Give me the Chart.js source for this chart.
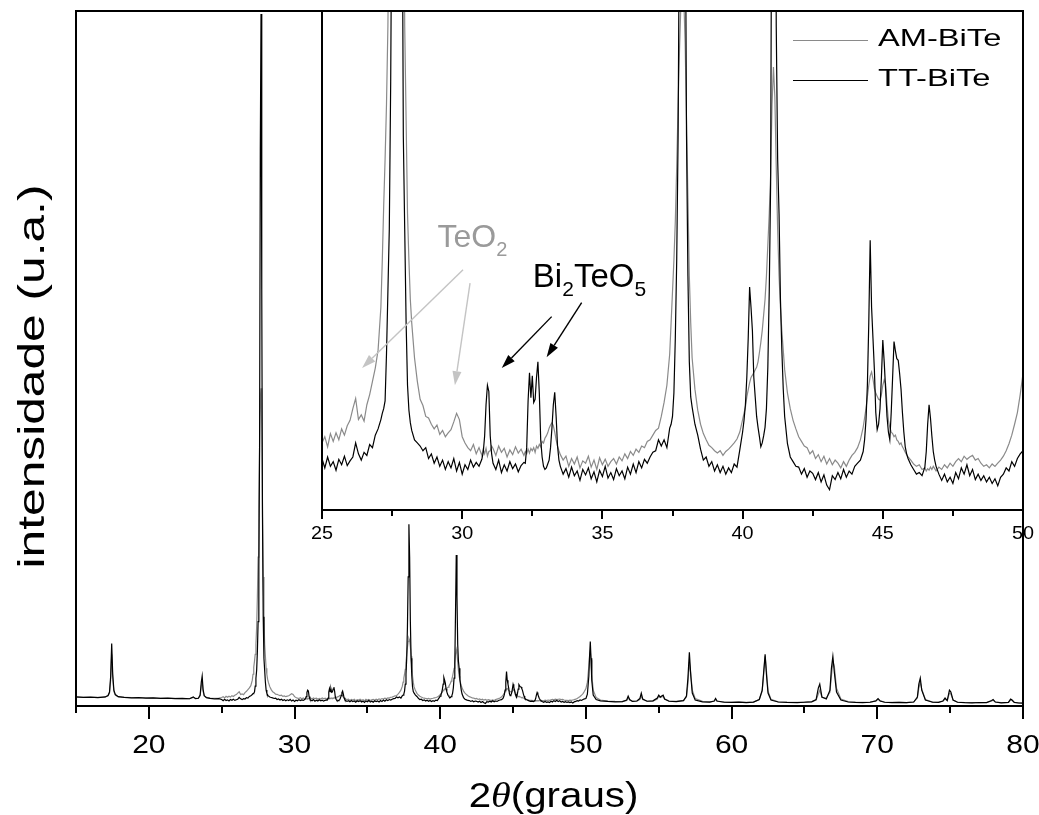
<!DOCTYPE html>
<html>
<head>
<meta charset="utf-8">
<title>DRX BiTe</title>
<script src="https://cdn.jsdelivr.net/npm/chart.js@4.4.1/dist/chart.umd.min.js"></script>
<style>
  html, body { margin: 0; padding: 0; background: #fff; }
  #wrap { position: relative; width: 1039px; height: 815px; }
  #mainChart { position: absolute; left: 0; top: 0; }
  #insetChart { position: absolute; left: 300px; top: 0; }
</style>
</head>
<body>
<div id="wrap">
  <canvas id="mainChart" width="1039" height="815"></canvas>
  <canvas id="insetChart" width="739" height="560"></canvas>
</div>
<script>
// 2theta grid (degrees), finer around the reflections
const twoTheta = [
  15.0, 15.5, 16.0, 16.5, 17.0, 17.2, 17.3, 17.38, 17.45, 17.52, 17.6, 17.7, 17.9, 18.3, 18.8, 19.3, 19.8, 20.3, 20.8, 21.3, 21.8, 22.3, 22.8, 23.05, 23.2, 23.4, 23.52, 23.6, 23.66, 23.72, 23.8, 23.95, 24.2, 24.5, 24.8,
  25.0, 25.1, 25.2, 25.3, 25.4, 25.5, 25.6, 25.7, 25.8, 25.9, 26.0, 26.1, 26.2, 26.3, 26.4, 26.5, 26.6, 26.7, 26.8, 26.9, 27.0, 27.1,
  27.15, 27.2, 27.25, 27.3, 27.35, 27.4, 27.45, 27.5, 27.55, 27.6, 27.65, 27.7, 27.75, 27.8, 27.85, 27.9, 27.95, 28.0, 28.05, 28.1, 28.15, 28.2,
  28.3, 28.4, 28.5, 28.6, 28.7, 28.8, 28.9, 29.0, 29.1, 29.2, 29.3, 29.4, 29.5, 29.6, 29.7, 29.8, 29.9, 30.0, 30.1, 30.2, 30.3, 30.4, 30.5, 30.6, 30.7,
  30.75, 30.8, 30.85, 30.9, 30.95, 31.0, 31.05, 31.1,
  31.2, 31.3, 31.4, 31.5, 31.6, 31.7, 31.8, 31.9, 32.0, 32.1, 32.2,
  32.25, 32.3, 32.35, 32.4, 32.45, 32.5, 32.55, 32.6, 32.65, 32.7, 32.75, 32.8, 32.85, 32.9, 32.95, 33.0, 33.05, 33.1, 33.15, 33.2, 33.25, 33.3, 33.35, 33.4, 33.45, 33.5,
  33.6, 33.7, 33.8, 33.9, 34.0, 34.1, 34.2, 34.3, 34.4, 34.5, 34.6, 34.7, 34.8, 34.9, 35.0, 35.1, 35.2, 35.3, 35.4, 35.5, 35.6, 35.7, 35.8, 35.9, 36.0, 36.1, 36.2, 36.3, 36.4, 36.5, 36.6, 36.7, 36.8, 36.9, 37.0, 37.1, 37.2, 37.3, 37.4,
  37.45, 37.5, 37.55, 37.6, 37.65, 37.7, 37.75, 37.8, 37.85, 37.9, 37.95, 38.0, 38.05, 38.1, 38.15, 38.2,
  38.3, 38.4, 38.5, 38.6, 38.7, 38.8, 38.9, 39.0, 39.1, 39.2, 39.3, 39.4, 39.5, 39.6, 39.7, 39.8, 39.9, 40.0,
  40.05, 40.1, 40.15, 40.2, 40.25, 40.3, 40.35, 40.4, 40.45, 40.5, 40.55, 40.6, 40.65, 40.7, 40.75, 40.8, 40.85, 40.9, 40.95, 41.0, 41.05, 41.1, 41.15, 41.2, 41.25, 41.3, 41.35, 41.4, 41.45, 41.5,
  41.6, 41.7, 41.8, 41.9, 42.0, 42.1, 42.2, 42.3, 42.4, 42.5, 42.6, 42.7, 42.8, 42.9, 43.0, 43.1, 43.2, 43.3, 43.4, 43.5, 43.6, 43.7, 43.8, 43.9, 44.0, 44.1, 44.2, 44.3,
  44.35, 44.4, 44.45, 44.5, 44.55, 44.6, 44.65, 44.7, 44.75, 44.8, 44.85, 44.9, 44.95, 45.0, 45.05, 45.1, 45.15, 45.2, 45.25, 45.3, 45.35, 45.4, 45.45, 45.5, 45.55, 45.6, 45.65, 45.7, 45.75, 45.8, 45.85, 45.9,
  46.0, 46.1, 46.2, 46.3, 46.4, 46.5,
  46.55, 46.6, 46.65, 46.7, 46.75, 46.8, 46.85,
  46.9, 47.0, 47.1, 47.2, 47.3, 47.4, 47.5, 47.6, 47.7, 47.8, 47.9, 48.0, 48.1, 48.2, 48.3, 48.4, 48.5, 48.6, 48.7, 48.8, 48.9, 49.0, 49.1, 49.2, 49.3, 49.4, 49.5, 49.6, 49.7, 49.8, 49.9, 50.0,
  50.1, 50.2, 50.25, 50.3, 50.35, 50.4, 50.5, 50.7, 51.0, 51.5,
  52.0, 52.5, 52.8, 52.9, 53.0, 53.2, 53.5, 53.7, 53.8, 53.9,
  54.2, 54.6, 54.9, 55.0, 55.1, 55.2, 55.3, 55.4, 55.7, 56.2,
  56.7, 56.9, 57.0, 57.1, 57.2, 57.3, 57.5, 58.0, 58.5, 58.8,
  58.9, 59.0, 59.5, 60.0, 60.5, 61.0, 61.5, 61.9, 62.1, 62.2,
  62.3, 62.4, 62.5, 62.7, 63.2, 63.8, 64.5, 65.0, 65.5, 65.8,
  65.95, 66.05, 66.2, 66.5, 66.75, 66.85, 66.95, 67.05, 67.2, 67.5,
  68.0, 68.5, 69.0, 69.5, 69.9, 70.05, 70.2, 70.5, 71.0, 71.5,
  72.0, 72.5, 72.75, 72.85, 72.95, 73.05, 73.3, 73.8, 74.2, 74.5,
  74.65, 74.8, 74.95, 75.05, 75.2, 75.5, 76.0, 76.5, 77.0, 77.5,
  77.85, 77.95, 78.1, 78.5, 79.0, 79.15, 79.25, 79.4, 79.7, 80.0
];

// as-milled sample (u.a.)
const amBiTe = [
  9.0, 8.8, 8.7, 8.6, 8.9, 10.2, 13, 26, 52, 28, 14.5, 11, 9.2, 8.8, 8.4, 8.3, 8.1, 7.9, 7.8, 7.7, 7.6, 7.5, 7.4, 8.6, 7.8, 8.0, 10.2, 20, 25, 15, 10, 8.6, 8.0, 7.8, 7.9,
  8.6, 9.4, 8.1, 9.8, 8.8, 9.9, 9.0, 10.4, 9.6, 10.8, 11.5, 13.0, 14.3, 11.6, 12.2, 11.4, 13.5, 14.8, 16.5, 18.2, 20.5, 26,
  32, 39, 45, 52, 62, 80, 110, 150, 200, 260, 310, 320, 280, 200, 130, 90, 62, 50, 38, 32, 27, 24,
  19.5, 16.5, 14.2, 13.4, 12.0, 11.8, 11.0, 10.4, 10.9, 9.7, 10.2, 9.4, 9.9, 10.3, 11.3, 12.4, 11.6, 9.4, 8.6, 8.0, 7.6, 8.4, 7.2, 8.0, 7.0,
  7.8, 7.2, 7.9, 6.9, 7.5, 7.6, 8.2, 7.9,
  7.0, 8.2, 7.4, 7.9, 6.8, 7.7, 7.1, 8.1, 7.3, 7.8, 7.0,
  7.5, 7.2, 7.8, 7.3, 7.9, 7.6, 8.0, 7.4, 8.2, 7.9, 8.4, 8.1, 8.8, 8.6, 9.2, 9.5, 9.9, 10.5, 10.9, 11.2, 10.8, 10.0, 9.0, 8.2, 7.6, 7.1,
  6.4, 6.9, 5.6, 6.6, 5.9, 6.8, 5.4, 6.3, 6.0, 6.9, 5.5, 6.4, 5.2, 6.7, 5.8, 6.5, 5.6, 6.2, 6.6, 5.9, 6.8, 6.3, 7.2, 6.6, 7.5, 7.0, 7.8, 7.4, 8.2, 8.0, 8.8, 9.0, 9.6, 10.2, 10.5, 12.0, 13.8, 16.0, 20.0,
  24, 28, 32, 37, 44, 52, 59, 65, 68, 66, 60, 50, 40, 30, 24, 19.5,
  15.5, 12.8, 11.0, 9.8, 9.0, 8.3, 8.0, 7.6, 7.3, 7.6, 7.0, 7.5, 7.8, 8.2, 8.6, 9.1, 10.0, 11.6,
  12.4, 13.2, 14.5, 15.4, 16.3, 17.0, 17.3, 17.6, 18.0, 18.3, 19.0, 20.2, 21.5, 23.0, 25.0, 27.0, 30.0, 34.0, 38.0, 43.0, 52.0, 56.8, 53.0, 44.0, 36.0, 30.0, 26.0, 23.0, 20.5, 18.0,
  15, 13, 11.5, 10.4, 9.4, 8.8, 8.2, 8.0, 7.2, 7.6, 6.6, 7.1, 6.2, 6.9, 5.9, 6.6, 5.8, 6.4, 6.0, 5.4, 6.2, 5.6, 6.4, 7.0, 7.4, 8.0, 9.0, 10.6,
  11.8, 13.0, 14.5, 16.0, 17.2, 17.7, 16.8, 15.6, 15.0, 14.6, 14.2, 14.1, 14.8, 16.0, 16.7, 16.2, 13.5, 11.5, 10.6, 10.0, 9.8, 9.4, 9.6, 9.0, 8.8, 8.4, 8.6, 8.1, 7.8, 7.4, 7.1, 6.8,
  6.4, 5.9, 5.6, 5.8, 5.2, 5.4,
  5.0, 5.3, 5.1, 5.5, 5.2, 5.6, 5.3,
  5.0, 5.5, 5.2, 5.8, 5.4, 6.0, 5.6, 6.2, 6.6, 6.2, 6.9, 6.5, 6.8, 7.0, 6.4, 6.6, 6.0, 5.6, 5.8, 5.4, 5.9, 5.6, 6.0, 6.4, 6.9, 7.6, 8.5, 9.6, 11.0, 12.5, 14.8, 17.5,
  24, 40, 50, 55, 46, 32, 16, 8.5, 6.0, 5.0,
  4.6, 4.4, 5.5, 8.5, 6.0, 4.6, 5.0, 6.5, 10, 6.5,
  4.8, 5.0, 7.0, 10, 8.5, 9.2, 9.6, 7.0, 5.2, 4.8,
  5.6, 9, 22, 44, 32, 16, 7.5, 4.6, 4.2, 4.8,
  6.5, 4.8, 4.0, 3.8, 3.9, 3.8, 4.0, 6.5, 15, 32,
  50, 34, 15, 6.8, 4.2, 3.8, 3.6, 3.9, 4.4, 6.0,
  12, 16, 8.5, 8, 14, 30, 45, 40, 18, 7.0,
  4.4, 3.8, 3.6, 3.9, 5.0, 6.8, 5.2, 4.0, 3.6, 3.6,
  3.5, 4.0, 8, 18, 24, 17, 6.5, 4.0, 3.8, 4.8,
  7.0, 5.4, 13, 12, 6.0, 4.0, 3.5, 3.4, 3.4, 3.5,
  5.0, 5.8, 4.0, 3.4, 3.6, 6.0, 5.5, 3.8, 3.2, 3.0
];

// heat-treated sample (u.a.)
const ttBiTe = [
  9.2, 8.6, 9.0, 8.4, 9.1, 10.5, 14, 30, 63, 32, 16, 11.5, 9.4, 8.6, 8.2, 8.5, 7.9, 8.1, 7.6, 7.9, 7.4, 7.7, 7.3, 9.2, 7.4, 7.8, 11, 24, 30, 17, 10.5, 8.4, 7.6, 7.2, 7.5,
  6.6, 5.4, 6.8, 5.6, 6.2, 5.1, 6.5, 5.8, 6.9, 5.7, 6.3, 6.8, 8.6, 7.2, 6.4, 7.4, 7.0, 8.4, 8.0, 9.6, 10.4, 11.6,
  12.4, 13.0, 14.0, 20, 28, 36, 55, 85, 140, 260, 560, 697, 420, 190, 90, 48, 36, 24, 16, 12.8, 11.2, 10.2,
  9.0, 8.6, 8.2, 7.6, 8.0, 6.6, 7.2, 6.0, 6.8, 5.6, 6.4, 5.2, 6.2, 5.4, 6.6, 5.0, 6.1, 4.6, 5.8, 5.2, 6.4, 5.5, 6.1, 5.6, 6.5,
  7.4, 9.5, 13.5, 16.0, 15.2, 9.5, 7.2, 6.0,
  5.2, 6.4, 4.8, 5.8, 5.0, 6.2, 5.3, 5.9, 4.9, 5.7, 6.1,
  6.0, 8.0, 14.0, 17.6, 14.4, 17.2, 13.8, 14.2, 17.0, 19.0, 15.0, 9.0, 6.8, 5.6, 5.2, 5.4, 5.9, 6.4, 8.0, 10.5, 13.5, 15.1, 12.0, 8.2, 6.4, 5.6,
  4.6, 5.3, 4.2, 5.5, 4.4, 5.0, 3.8, 5.2, 4.5, 5.4, 4.0, 4.9, 3.6, 5.1, 4.3, 5.6, 4.1, 4.8, 3.9, 5.3, 4.4, 5.0, 4.0, 5.5, 4.6, 5.9, 4.8, 6.2, 5.4, 6.5, 6.0, 6.8, 7.4, 7.6, 9.0, 8.2, 9.0, 8.0, 10.5,
  11.0, 12.0, 15.0, 22, 32, 48, 80, 130, 183, 150, 85, 48, 30, 19, 14.5, 13.2,
  11.0, 9.6, 7.8, 6.4, 6.8, 5.6, 6.2, 5.0, 5.8, 4.8, 5.6, 4.6, 5.4, 4.8, 5.9, 5.5, 7.7, 10.0,
  11.5, 13.5, 17.0, 22.0, 28.6, 26.0, 23.0, 17.0, 14.5, 12.0, 10.6, 9.4, 8.1, 8.6, 9.5, 10.6, 13.0, 18.3, 28.0, 42.0, 95, 152, 110, 62, 45, 38, 27, 20.5, 15.5, 12.0,
  8.5, 6.8, 6.2, 5.6, 5.5, 4.6, 5.3, 4.2, 5.0, 4.7, 3.9, 4.8, 3.6, 4.5, 3.2, 2.6, 4.4, 3.9, 4.8, 4.0, 5.2, 4.2, 5.0, 4.6, 5.6, 6.0, 6.4, 7.5,
  9.0, 11.5, 16.0, 24.0, 34.6, 26.0, 22.0, 18.0, 12.5, 10.3, 11.0, 13.0, 17.0, 21.8, 19.0, 15.5, 12.0, 10.0, 9.0, 12.5, 17.0, 21.6, 20.4, 19.4, 19.2, 17.5, 15.5, 12.5, 10.0, 8.1, 7.2, 6.6,
  5.8, 5.2, 4.6, 4.8, 4.4, 5.5,
  7.5, 11.0, 13.5, 11.8, 9.5, 7.5, 6.4,
  5.6, 4.6, 3.8, 4.6, 3.6, 4.2, 3.4, 4.8, 4.0, 5.4, 4.6, 5.8, 4.4, 5.2, 3.9, 4.6, 3.8, 4.4, 3.6, 4.2, 3.4, 4.0, 3.1, 4.2, 4.6, 5.4, 5.0, 6.2, 5.6, 6.6, 7.2, 7.6,
  12, 30, 50, 65, 48, 26, 11, 6.5, 5.2, 4.6,
  4.2, 4.5, 6.0, 10, 6.5, 4.6, 5.0, 7.5, 13, 7.0,
  4.8, 5.2, 8.0, 11, 9.0, 10, 11, 7.0, 4.8, 4.4,
  5.4, 10, 28, 54, 30, 13, 6.0, 4.2, 4.0, 5.0,
  7.5, 5.0, 3.8, 3.6, 3.9, 3.5, 3.9, 6.5, 16, 34,
  52, 30, 13, 6.0, 4.0, 3.6, 3.5, 3.8, 4.2, 6.5,
  18, 22, 9, 7, 16, 38, 50, 34, 14, 6.0,
  4.0, 3.6, 3.4, 3.8, 5.2, 7.5, 5.0, 3.8, 3.4, 3.6,
  3.4, 4.0, 9, 22, 28, 16, 6.0, 3.8, 3.6, 5.0,
  8.0, 5.5, 16, 14, 6.0, 3.8, 3.4, 3.2, 3.5, 3.4,
  5.5, 6.5, 4.0, 3.2, 3.6, 7.0, 6.0, 3.6, 3.0, 2.8
];

const seriesLabels = ['AM-BiTe', 'TT-BiTe'];
const seriesColors = ['#8a8a8a', '#000000'];

const mainTicks = [15, 20, 25, 30, 35, 40, 45, 50, 55, 60, 65, 70, 75, 80];
const mainTickLabels = [20, 30, 40, 50, 60, 70, 80];
const insetTicks = [25, 27.5, 30, 32.5, 35, 37.5, 40, 42.5, 45, 47.5, 50];
const insetTickLabels = [25, 30, 35, 40, 45, 50];

// phase markers in the zoomed panel: [from 2theta, from I, to 2theta, to I]
const teo2Arrows = [[30.03, 30.8, 26.43, 18.2], [30.28, 29.1, 29.74, 16.0]];
const bi2teo5Arrows = [[33.19, 24.8, 31.41, 18.2], [34.26, 26.6, 33.01, 19.6]];
const teo2Anchor = [29.12, 33.7];
const bi2teo5Anchor = [32.52, 28.6];

const FONT = "'Liberation Sans', Arial, sans-serif";

function points(values) {
  return twoTheta.map((t, i) => ({ x: t, y: values[i] }));
}

function buildDatasets() {
  return [amBiTe, ttBiTe].map((values, i) => ({
    label: seriesLabels[i],
    data: points(values),
    borderColor: seriesColors[i],
    borderWidth: 1.2,
    pointRadius: 0,
    tension: 0,
    order: 2 - i
  }));
}

// text made of runs [text, font, dy]; sx widens the glyphs along the text
function drawRuns(ctx, runs, x, y, align, sx = 1) {
  let total = 0;
  runs.forEach(r => { ctx.font = r[1]; total += ctx.measureText(r[0]).width; });
  let start = x;
  if (align === 'center') start = x - total * sx / 2;
  else if (align === 'right') start = x - total * sx;
  ctx.save();
  ctx.translate(start, y);
  ctx.scale(sx, 1);
  ctx.textAlign = 'left';
  ctx.textBaseline = 'alphabetic';
  let cx = 0;
  runs.forEach(r => {
    ctx.font = r[1];
    ctx.fillText(r[0], cx, r[2] || 0);
    cx += ctx.measureText(r[0]).width;
  });
  ctx.restore();
}

function drawArrow(ctx, x0, y0, x1, y1, color) {
  const ang = Math.atan2(y1 - y0, x1 - x0);
  const head = 14, half = 4.5;
  const bx = x1 - head * Math.cos(ang), by = y1 - head * Math.sin(ang);
  ctx.strokeStyle = color;
  ctx.fillStyle = color;
  ctx.lineWidth = 1.4;
  ctx.beginPath();
  ctx.moveTo(x0, y0);
  ctx.lineTo(bx, by);
  ctx.stroke();
  ctx.beginPath();
  ctx.moveTo(x1, y1);
  ctx.lineTo(bx + half * Math.sin(ang), by - half * Math.cos(ang));
  ctx.lineTo(bx - half * Math.sin(ang), by + half * Math.cos(ang));
  ctx.closePath();
  ctx.fill();
}

function drawAxisTicks(ctx, chart, ticks, labels, major, minor, labelFont, baselineOffset, sx) {
  const a = chart.chartArea;
  const x = chart.scales.x;
  ctx.strokeStyle = '#000';
  ctx.lineWidth = 2;
  ticks.forEach(v => {
    const px = Math.round(x.getPixelForValue(v));
    const len = labels.includes(v) ? major : minor;
    ctx.beginPath();
    ctx.moveTo(px, a.bottom);
    ctx.lineTo(px, a.bottom + len);
    ctx.stroke();
  });
  ctx.fillStyle = '#000';
  labels.forEach(v => drawRuns(ctx, [[String(v), labelFont]], x.getPixelForValue(v), a.bottom + baselineOffset, 'center', sx));
}

const mainFrame = {
  id: 'mainFrame',
  afterDraw(chart) {
    const { ctx, chartArea: a } = chart;
    ctx.save();
    ctx.strokeStyle = '#000';
    ctx.lineWidth = 2;
    ctx.strokeRect(a.left, a.top, a.right - a.left, a.bottom - a.top);
    drawAxisTicks(ctx, chart, mainTicks, mainTickLabels, 13, 7, `25px ${FONT}`, 47, 1.2);

    ctx.fillStyle = '#000';
    drawRuns(ctx, [
      ['2', `35px ${FONT}`],
      ['\u03b8', `italic 35px 'Liberation Serif', serif`],
      ['(graus)', `35px ${FONT}`]
    ], (a.left + a.right) / 2 + 4, 807, 'center', 1.15);

    // y title, rotated; drawRuns works in the rotated frame
    ctx.translate(44, (a.top + a.bottom) / 2 + 18);
    ctx.rotate(-Math.PI / 2);
    drawRuns(ctx, [['intensidade (u.a.)', `36px ${FONT}`]], 0, 0, 'center', 1.38);
    ctx.restore();
  }
};

const insetFrame = {
  id: 'insetFrame',
  beforeDraw(chart) {
    const { ctx, chartArea: a } = chart;
    ctx.save();
    ctx.fillStyle = '#fff';
    ctx.fillRect(a.left, a.top, a.right - a.left, a.bottom - a.top);
    ctx.restore();
  },
  afterDatasetsDraw(chart) {
    const { ctx, chartArea: a, scales: { x, y } } = chart;
    ctx.save();
    const px = v => x.getPixelForValue(v);
    const py = v => y.getPixelForValue(v);

    teo2Arrows.forEach(r => drawArrow(ctx, px(r[0]), py(r[1]), px(r[2]), py(r[3]), '#c4c4c4'));
    bi2teo5Arrows.forEach(r => drawArrow(ctx, px(r[0]), py(r[1]), px(r[2]), py(r[3]), '#000'));

    ctx.fillStyle = '#9a9a9a';
    drawRuns(ctx, [['TeO', `32px ${FONT}`], ['2', `20px ${FONT}`, 9]], px(teo2Anchor[0]), py(teo2Anchor[1]), 'left');
    ctx.fillStyle = '#000';
    drawRuns(ctx, [
      ['Bi', `33px ${FONT}`], ['2', `21px ${FONT}`, 9],
      ['TeO', `33px ${FONT}`], ['5', `21px ${FONT}`, 9]
    ], px(bi2teo5Anchor[0]), py(bi2teo5Anchor[1]), 'left');

    // legend
    chart.data.datasets.forEach((ds, i) => {
      const ly = a.top + 29.5 + i * 40;
      ctx.strokeStyle = ds.borderColor;
      ctx.lineWidth = 1;
      ctx.beginPath();
      ctx.moveTo(a.right - 230, ly);
      ctx.lineTo(a.right - 155, ly);
      ctx.stroke();
      ctx.fillStyle = '#000';
      drawRuns(ctx, [[ds.label, `24px ${FONT}`]], a.right - 145, ly + 5, 'left', 1.36);
    });
    ctx.restore();
  },
  afterDraw(chart) {
    const { ctx, chartArea: a } = chart;
    ctx.save();
    ctx.strokeStyle = '#000';
    ctx.lineWidth = 2;
    ctx.strokeRect(a.left, a.top, a.right - a.left, a.bottom - a.top);
    drawAxisTicks(ctx, chart, insetTicks, insetTickLabels, 9, 6, `18px ${FONT}`, 29, 1.1);
    ctx.restore();
  }
};

function baseOptions(xMin, xMax, yMax, padding) {
  return {
    responsive: false,
    animation: false,
    devicePixelRatio: 1,
    layout: { padding },
    plugins: { legend: { display: false }, tooltip: { enabled: false } },
    scales: {
      x: { type: 'linear', min: xMin, max: xMax, display: false },
      y: { type: 'linear', min: 0, max: yMax, display: false }
    }
  };
}

new Chart(document.getElementById('mainChart'), {
  type: 'line',
  data: { datasets: buildDatasets() },
  options: baseOptions(15, 80, 700, { left: 76, right: 16, top: 11, bottom: 109 }),
  plugins: [mainFrame]
});

new Chart(document.getElementById('insetChart'), {
  type: 'line',
  data: { datasets: buildDatasets() },
  options: baseOptions(25, 50, 64, { left: 22, right: 16, top: 11, bottom: 50 }),
  plugins: [insetFrame]
});
</script>
</body>
</html>
